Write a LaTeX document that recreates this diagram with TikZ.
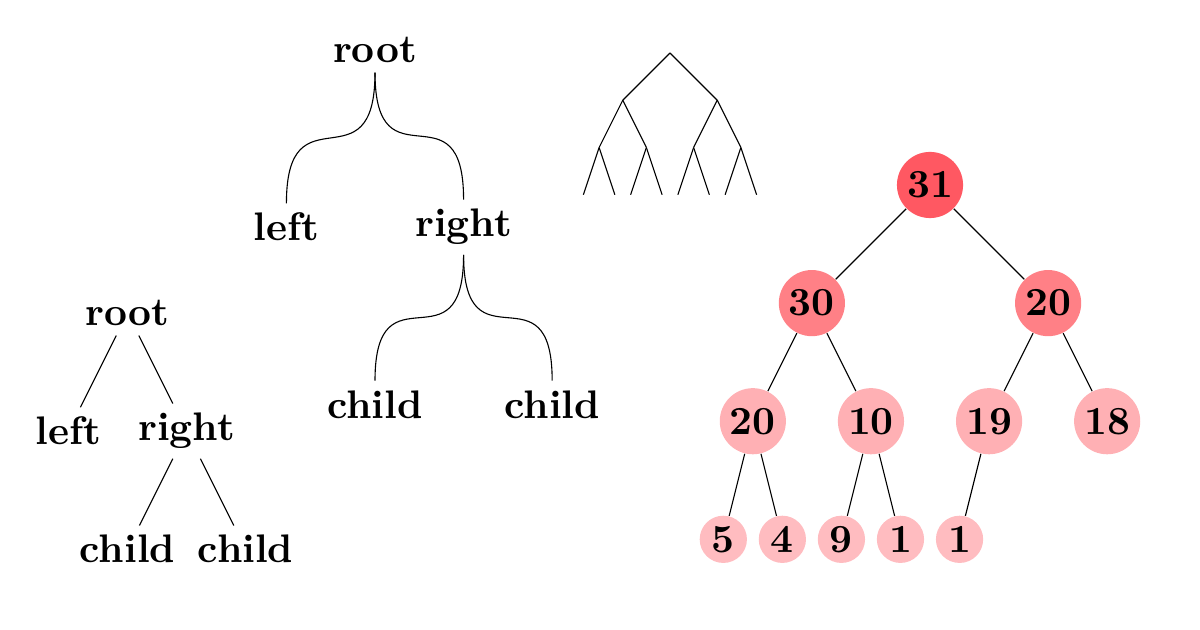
\documentclass[tikz,border=0pt]{standalone}
\usepackage{fontspec}
\setmainfont{lmroman10-regular.otf}[BoldFont=lmroman10-bold.otf]
\usetikzlibrary{calc}

\definecolor{heapA}{RGB}{255,88,98}
\definecolor{heapB}{RGB}{255,128,134}
\definecolor{heapC}{RGB}{255,176,180}
\definecolor{heapD}{RGB}{255,188,192}

\tikzset{
  heap/.style={circle, minimum size=0.84cm, inner sep=0pt},
  heap0/.style={heap, fill=heapA},
  heap1/.style={heap, fill=heapB},
  heap2/.style={heap, fill=heapC},
  heap3/.style={heap, fill=heapD, minimum size=0.6cm},
}

\NewDocumentCommand{\curveedge}{mm}{%
\draw (#1.south) .. controls +(0,-1.5) and +(0,1.5) .. (#2.north);%
}

\NewDocumentCommand{\heapnode}{mmmm}{%
\node[heap#2] (h#1) at ({6/2^#2*(#3-(2^#2-1)/2)},{-1.5*#2}) {#4};%
}

\begin{document}
\begin{tikzpicture}[font=\Large\bfseries]
\useasboundingbox (0,0) rectangle (15.24,8.001);

% plain tree
\begin{scope}[shift={(1.62,4.026)}]
\node (root1) at (0,0) {root};
\node (left1) at (-0.75,-1.5) {left};
\node (right1) at (0.75,-1.5) {right};
\node (child11) at (0,-3) {child};
\node (child12) at (1.5,-3) {child};
\foreach \a/\b in {root1/left1,root1/right1,right1/child11,right1/child12}
  \draw (\a) -- (\b);
\end{scope}

% curved tree
\begin{scope}[shift={(4.7625,7.366)}]
\node (root2) at (0,0) {root};
\node (left2) at (-1.125,-2.25) {left};
\node (right2) at (1.125,-2.25) {right};
\node (child21) at (0,-4.5) {child};
\node (child22) at (2.25,-4.5) {child};
\curveedge{root2}{left2}
\curveedge{root2}{right2}
\curveedge{right2}{child21}
\curveedge{right2}{child22}
\end{scope}

% bare binary tree
\begin{scope}[shift={(8.509,7.328)}]
\coordinate (b) at (0,0);
\foreach \i/\x in {0/-0.6,1/0.6} {
  \draw (b) -- ++(\x,-0.6) coordinate (b\i);
  \foreach \j/\y in {0/-0.3,1/0.3} {
    \draw (b\i) -- ++(\y,-0.6) coordinate (b\i\j);
    \foreach \k/\z in {0/-0.2,1/0.2}
      \draw (b\i\j) -- ++(\z,-0.6) coordinate (b\i\j\k);
  }
}
\end{scope}

% heap
\begin{scope}[shift={(11.811,5.6515)}]
\heapnode{1}{0}{0}{31}
\heapnode{2}{1}{0}{30}
\heapnode{3}{1}{1}{20}
\heapnode{4}{2}{0}{20}
\heapnode{5}{2}{1}{10}
\heapnode{6}{2}{2}{19}
\heapnode{7}{2}{3}{18}
\heapnode{8}{3}{0}{5}
\heapnode{9}{3}{1}{4}
\heapnode{10}{3}{2}{9}
\heapnode{11}{3}{3}{1}
\heapnode{12}{3}{4}{1}
\foreach \c in {2,...,12} {
  \pgfmathtruncatemacro{\p}{\c/2}
  \draw (h\p) -- (h\c);
}
\end{scope}
\end{tikzpicture}
\end{document}
